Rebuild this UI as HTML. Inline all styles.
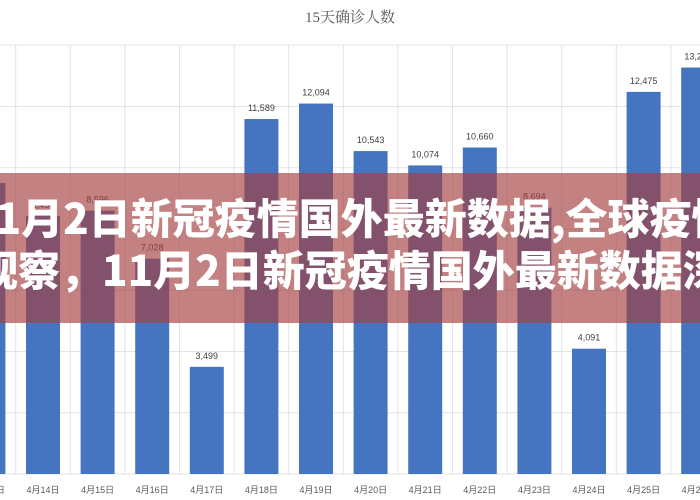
<!DOCTYPE html>
<html><head><meta charset="utf-8">
<style>
body{margin:0;width:700px;height:500px;overflow:hidden;background:#fff;font-family:"Liberation Sans","Noto Sans CJK SC",sans-serif;}
#wrap{position:relative;width:700px;height:500px;overflow:hidden;}
svg{position:absolute;left:0;top:0;}
#band{position:absolute;left:0;top:173px;width:700px;height:150px;background:rgba(164,62,62,0.65);}
.clip{position:absolute;left:0;top:173px;width:700px;height:150px;overflow:hidden;}
.ln{position:absolute;white-space:nowrap;color:#fff;font-weight:900;font-size:42px;font-family:"Noto Sans CJK SC","WenQuanYi Zen Hei",sans-serif;line-height:50px;letter-spacing:0px;}
</style></head><body>
<div id="wrap">
<svg id="chart" width="700" height="500">
<text x="350" y="22" text-anchor="middle" font-size="15" fill="#595959" font-family="Liberation Serif, Noto Serif CJK SC, serif">15天确诊人数</text>
</svg>
<div id="band"></div>
<div class="clip">
<div class="ln" style="left:-30px;top:19px">11月2日新冠疫情国外最新数据,全球疫情</div>
<div class="ln" style="left:-24px;top:71px">观察，11月2日新冠疫情国外最新数据深度</div>
</div>
</div>
<script>
const categories=["4月13日","4月14日","4月15日","4月16日","4月17日","4月18日","4月19日","4月20日","4月21日","4月22日","4月23日","4月24日","4月25日","4月26日"];
const values=[9500,8430,8596,7028,3499,11589,12094,10543,10074,10660,8694,4091,12475,13270];
const yTicks=[0,2000,4000,6000,8000,10000,12000,14000];
const NS="http://www.w3.org/2000/svg";
const svg=document.getElementById('chart');
const x0=-11.6, step=54.6, bw=34, base=474, k=0.03063;
const xc=i=>x0+i*step;
const y=v=>base-v*k;
const g=document.createElementNS(NS,'g');svg.appendChild(g);
function add(t,a,p){const e=document.createElementNS(NS,t);for(const n in a)e.setAttribute(n,a[n]);(p||g).appendChild(e);return e;}
yTicks.forEach(v=>{
 const l=add('line',{x1:0,x2:700,y1:y(v),y2:y(v),stroke:'#e3e3e3','stroke-width':1});
 
 
});
for(let i=0;i<=categories.length;i++){
 const gx=xc(i)-step/2;
 const l=add('line',{x1:gx,x2:gx,y1:y(14000),y2:base,stroke:'#e3e3e3','stroke-width':1});
 
 
}
categories.forEach((c,i)=>{
 const r=add('rect',{x:xc(i)-bw/2,y:y(values[i]),width:bw,height:base-y(values[i]),fill:'#4575c0'});
 
 
 const t=add('text',{x:xc(i),y:y(values[i])-8,'text-anchor':'middle','font-size':9,fill:'#404040'});
 t.textContent=values[i].toLocaleString('en-US');
 
 
 const xl=add('text',{x:xc(i),y:493,'text-anchor':'middle','font-size':9,fill:'#595959'});
 xl.textContent=c;
 
 
});
</script>
</body></html>
